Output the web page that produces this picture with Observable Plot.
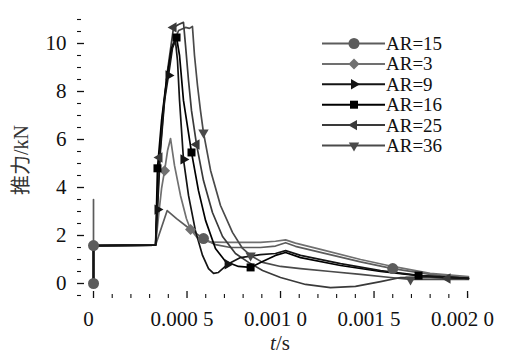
<!DOCTYPE html>
<html>
<head>
<meta charset="utf-8">
<script src="https://cdn.jsdelivr.net/npm/d3@7"></script>
<script src="https://cdn.jsdelivr.net/npm/@observablehq/plot@0.6"></script>
<style>
  body { margin: 0; background: #fff; }
  #chart { width: 509px; height: 356px; }
</style>
</head>
<body>
<div id="chart"></div>
<script>
// Thrust force (kN) against time (s) for six aspect ratios.
const seriesNames = ["AR=15", "AR=3", "AR=9", "AR=16", "AR=25", "AR=36"];
const seriesColors = ["#5c5c5c", "#707070", "#141414", "#000000", "#3a3a3a", "#4a4a4a"];

// Curves: time (s) and force (kN)
const t15 = [0, 0, 0, 0.000332, 0.000394, 0.000444, 0.000519, 0.000588, 0.000652, 0.000733, 0.000893, 0.000973, 0.001027, 0.00108, 0.001214, 0.001428, 0.0016, 0.0018, 0.002005];
const f15 = [0, 3.5, 1.58, 1.6, 3.04, 2.7, 2.25, 1.87, 1.62, 1.5, 1.5, 1.56, 1.7, 1.55, 1.3, 0.9, 0.62, 0.38, 0.25];

const t3 = [0, 0, 0.000332, 0.000348, 0.000364, 0.00038, 0.000396, 0.000412, 0.000433, 0.000465, 0.000497, 0.000519, 0.000556, 0.000626, 0.000733, 0.000893, 0.000973, 0.001027, 0.00108, 0.001214, 0.001428, 0.0016, 0.0018, 0.002005];
const f3 = [0, 1.58, 1.6, 2.83, 3.96, 4.7, 5.54, 6.04, 4.92, 3.67, 2.7, 2.25, 1.9, 1.72, 1.71, 1.71, 1.76, 1.82, 1.68, 1.42, 1.0, 0.71, 0.42, 0.29];

const t9 = [0, 0, 0.000332, 0.000342, 0.000358, 0.00038, 0.000401, 0.000422, 0.000438, 0.000449, 0.00046, 0.000481, 0.000508, 0.000545, 0.000583, 0.000615, 0.000642, 0.000668, 0.000717, 0.000786, 0.000893, 0.000973, 0.001027, 0.001107, 0.001321, 0.001535, 0.001749, 0.002005];
const f9 = [0, 1.58, 1.6, 3.08, 5.54, 7.63, 8.67, 9.8, 10.12, 9.3, 7.63, 5.17, 3.67, 2.2, 1.17, 0.62, 0.42, 0.46, 0.8, 1.08, 1.2, 1.25, 1.37, 1.17, 0.83, 0.54, 0.33, 0.21];

const t16 = [0, 0, 0.000332, 0.000342, 0.000364, 0.00039, 0.000417, 0.000444, 0.00046, 0.000481, 0.000524, 0.000561, 0.000599, 0.000652, 0.000706, 0.000775, 0.00084, 0.000904, 0.000973, 0.001027, 0.001107, 0.001321, 0.001535, 0.001738, 0.002005];
const f16 = [0, 1.58, 1.6, 4.8, 6.8, 8.46, 9.8, 10.25, 9.5, 7.63, 5.46, 3.88, 2.63, 1.46, 0.92, 0.71, 0.67, 0.92, 1.17, 1.29, 1.08, 0.75, 0.5, 0.33, 0.21];

const t25 = [0, 0, 0.000332, 0.000353, 0.000374, 0.000396, 0.000428, 0.000455, 0.000481, 0.000492, 0.000508, 0.000524, 0.000551, 0.000588, 0.000636, 0.00069, 0.000759, 0.000829, 0.000904, 0.001, 0.001134, 0.001267, 0.001401, 0.001535, 0.001642, 0.001802, 0.001893, 0.002005];
const f25 = [0, 1.58, 1.6, 5.25, 7.2, 8.88, 10.67, 10.79, 10.88, 9.92, 8.46, 7.2, 5.79, 4.29, 2.96, 1.96, 1.25, 0.88, 0.54, 0.25, -0.04, -0.17, -0.12, 0.08, 0.25, 0.25, 0.21, 0.21];

const t36 = [0, 0, 0.000332, 0.000348, 0.000369, 0.000396, 0.000422, 0.000455, 0.000492, 0.000513, 0.000529, 0.00054, 0.000556, 0.000572, 0.000588, 0.000626, 0.000679, 0.000743, 0.000797, 0.00084, 0.000904, 0.001, 0.001107, 0.001267, 0.001428, 0.001588, 0.001695, 0.001856, 0.002005];
const f36 = [0, 1.58, 1.6, 4.92, 7.0, 8.79, 9.92, 10.54, 10.67, 10.63, 10.71, 9.5, 8.25, 7.2, 6.29, 4.71, 3.25, 2.13, 1.46, 1.17, 0.88, 0.71, 0.62, 0.5, 0.38, 0.25, 0.17, 0.17, 0.17];

// Marker positions along each curve
const m15t = [0, 0, 0.000588, 0.0016];
const m15f = [0, 1.58, 1.87, 0.62];
const m3t = [0.00038, 0.000519];
const m3f = [4.7, 2.25];
const m9t = [0.000342, 0.000401, 0.000481, 0.000717];
const m9f = [3.08, 8.67, 5.17, 0.8];
const m16t = [0.000342, 0.000444, 0.000524, 0.00084, 0.001738];
const m16f = [4.8, 10.25, 5.46, 0.67, 0.33];
const m25t = [0.000353, 0.000428, 0.000551, 0.001893];
const m25f = [5.25, 10.67, 5.79, 0.21];
const m36t = [0.000588, 0.00084, 0.001695];
const m36f = [6.29, 1.17, 0.17];

// Axis ticks and labels
const xTicks = [0, 0.0005, 0.001, 0.0015, 0.002];
const xTickLabels = ["0", "0.000 5", "0.001 0", "0.001 5", "0.002 0"];
const xMinor = [0.0001, 0.0002, 0.0003, 0.0004, 0.0006, 0.0007, 0.0008, 0.0009, 0.0011, 0.0012, 0.0013, 0.0014, 0.0016, 0.0017, 0.0018, 0.0019, 0.002];
const yTicks = [0, 2, 4, 6, 8, 10];
const yTickLabels = ["0", "2", "4", "6", "8", "10"];
const yMinor = [-0.5, 0.5, 1, 1.5, 2.5, 3, 3.5, 4.5, 5, 5.5, 6.5, 7, 7.5, 8.5, 9, 9.5, 10.5, 11];

const SERIF = "Liberation Serif";

// Marker shapes
function triangle(angle) {
  return {
    draw(ctx, size) {
      const r = Math.sqrt(size / Math.PI) * 1.2;
      for (let k = 0; k < 3; k++) {
        const a = angle + k * 2 * Math.PI / 3;
        const x = r * Math.cos(a), y = r * Math.sin(a);
        if (k) ctx.lineTo(x, y); else ctx.moveTo(x, y);
      }
      ctx.closePath();
    }
  };
}
const circleSym = {draw(ctx, size) { const r = Math.sqrt(size / Math.PI); ctx.moveTo(r, 0); ctx.arc(0, 0, r, 0, 2 * Math.PI); }};
const diamondSym = {draw(ctx, size) { const r = Math.sqrt(size / Math.PI) * 1.1; ctx.moveTo(0, -r); ctx.lineTo(r, 0); ctx.lineTo(0, r); ctx.lineTo(-r, 0); ctx.closePath(); }};
const squareSym = {draw(ctx, size) { const h = Math.sqrt(size / Math.PI) * 0.8; ctx.rect(-h, -h, 2 * h, 2 * h); }};
const seriesSymbols = [circleSym, diamondSym, triangle(0), squareSym, triangle(Math.PI), triangle(Math.PI / 2)];
const seriesRadii = [5.5, 5, 5, 5, 5, 5];

const curveT = [t15, t3, t9, t16, t25, t36];
const curveF = [f15, f3, f9, f16, f25, f36];
const markT = [m15t, m3t, m9t, m16t, m25t, m36t];
const markF = [m15f, m3f, m9f, m16f, m25f, m36f];

const lineRows = seriesNames.flatMap((name, i) => curveT[i].map((t, j) => ({name, t, f: curveF[i][j]})));
const markRows = seriesNames.map((name, i) => markT[i].map((t, j) => ({name, t, f: markF[i][j]})));

// Draw gray curves first, black ones on top
const drawOrder = [0, 1, 5, 4, 3, 2];

const plot = Plot.plot({
  width: 509,
  height: 356,
  marginLeft: 77,
  marginRight: 24,
  marginTop: 10,
  marginBottom: 58,
  x: {domain: [-0.0000856, 0.002096]},
  y: {domain: [-0.625, 11.375]},
  style: {fontFamily: SERIF, fontSize: "21px", color: "#111", background: "transparent", overflow: "visible"},
  marks: [
    ...drawOrder.map(i => Plot.line(lineRows.filter(d => d.name === seriesNames[i]), {
      x: "t", y: "f", stroke: seriesColors[i], strokeWidth: 1.7, strokeLinejoin: "round"
    })),
    ...drawOrder.map(i => Plot.dot(markRows[i], {
      x: "t", y: "f", fill: seriesColors[i], stroke: "none", symbol: seriesSymbols[i], r: seriesRadii[i]
    })),
    // y axis: line, labels, inward ticks
    Plot.axisY(yTicks, {tickSize: 0, tickPadding: 11, fontSize: 21, fontFamily: SERIF, label: null, line: true, strokeWidth: 2,
      tickFormat: d => yTickLabels[yTicks.indexOf(d)]}),
    Plot.axisY(yTicks, {tickSize: -7, strokeWidth: 1.3, label: null, tickFormat: () => ""}),
    Plot.axisY(yMinor, {tickSize: -4, strokeWidth: 1.1, label: null, tickFormat: () => ""}),
    // x axis
    Plot.axisX(xTicks, {tickSize: 0, tickPadding: 13, fontSize: 21, fontFamily: SERIF, dx: -5, label: null, line: true, strokeWidth: 2,
      tickFormat: d => xTickLabels[xTicks.indexOf(d)]}),
    Plot.axisX(xTicks, {tickSize: -7, strokeWidth: 1.3, label: null, tickFormat: () => ""}),
    Plot.axisX(xMinor, {tickSize: -4, strokeWidth: 1.1, label: null, tickFormat: () => ""})
  ]
});

const svg = d3.select(plot).attr("font-family", SERIF);

// Axis titles
svg.append("text")
  .attr("transform", "translate(21,160) rotate(-90)")
  .attr("text-anchor", "middle")
  .attr("dominant-baseline", "central")
  .attr("font-size", 20)
  .attr("fill", "#333")
  .style("font-family", "'Liberation Serif', 'Noto Sans CJK SC'")
  .text("推力/kN");

const xTitle = svg.append("text")
  .attr("x", 280)
  .attr("y", 350)
  .attr("text-anchor", "middle")
  .attr("font-size", 21)
  .attr("fill", "#222");
xTitle.append("tspan").attr("font-style", "italic").text("t");
xTitle.append("tspan").text("/s");

// Legend
const legend = svg.append("g").attr("font-size", 19).attr("text-anchor", "start");
seriesNames.forEach((name, i) => {
  const y = 43.5 + i * 20.4;
  legend.append("line")
    .attr("x1", 322).attr("x2", 385).attr("y1", y).attr("y2", y)
    .attr("stroke", seriesColors[i]).attr("stroke-width", 2);
  legend.append("path")
    .attr("transform", `translate(354,${y})`)
    .attr("d", d3.symbol(seriesSymbols[i], seriesRadii[i] * seriesRadii[i] * Math.PI)())
    .attr("fill", seriesColors[i]);
  legend.append("text")
    .attr("x", 386).attr("y", y)
    .attr("dominant-baseline", "central")
    .attr("fill", "#111")
    .text(name);
});

// Every label in the serif face
svg.selectAll("text").filter(function() { return !this.style.fontFamily; }).style("font-family", SERIF);

document.getElementById("chart").appendChild(plot);
</script>
</body>
</html>
